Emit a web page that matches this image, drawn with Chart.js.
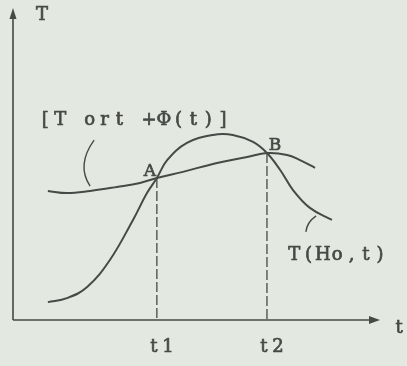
<!DOCTYPE html>
<html>
<head>
<meta charset="utf-8">
<script src="https://cdn.jsdelivr.net/npm/chart.js"></script>
<style>
  html, body { margin: 0; padding: 0; background: #e3e9e0; }
  .box { width: 407px; height: 366px; }
</style>
</head>
<body>
<div class="box"><canvas id="curves" width="407" height="366"></canvas></div>
<script>
// T ort + phi(t)
const ortT = [0.95, 1.47, 2.10, 2.83, 3.46, 3.92, 4.63, 5.56, 6.38, 6.92, 7.47, 7.82, 8.23];
const ortV = [4.19, 4.12, 4.19, 4.32, 4.45, 4.61, 4.81, 5.10, 5.29, 5.42, 5.36, 5.19, 4.94];

// T(Ho, t)
const hoT = [0.95, 1.47, 2.02, 2.64, 3.27, 3.65, 3.92, 4.20, 4.74, 5.45, 5.99, 6.54, 6.92, 7.28, 7.63, 8.09, 8.69];
const hoV = [0.58, 0.71, 1.07, 1.95, 3.25, 4.12, 4.61, 5.19, 5.75, 6.01, 6.01, 5.78, 5.42, 4.87, 4.22, 3.64, 3.25];

// crossing points A and B
const crossNames = ['A', 'B'];
const crossT = [3.92, 6.92];
const crossV = [4.61, 5.42];
const tickLabels = ['t1', 't2'];

const ink = '#464a46';
const serif = '"DejaVu Serif", "Liberation Serif", serif';

const toPts = (xs, ys) => xs.map((x, i) => ({x: x, y: ys[i]}));

// typewriter style: every character centred in a fixed cell, slightly inked
function typeText(ctx, str, left, y, cell) {
  [...str].forEach((ch, i) => {
    const cx = left + cell * i + cell / 2;
    ctx.fillText(ch, cx, y);
    ctx.strokeText(ch, cx, y);
  });
}

// axes with arrows, dashed drop lines, labels
const sketch = {
  id: 'sketch',
  afterDatasetsDraw(chart) {
    const ctx = chart.ctx;
    const xs = chart.scales.x, ys = chart.scales.y;
    const px = v => xs.getPixelForValue(v);
    const py = v => ys.getPixelForValue(v);
    const x0 = px(0), y0 = py(0);
    const xEnd = px(10), yEnd = py(10) - 4;

    ctx.save();
    ctx.strokeStyle = ink;
    ctx.fillStyle = ink;
    ctx.lineWidth = 1.6;
    ctx.beginPath();
    ctx.moveTo(x0, y0); ctx.lineTo(xEnd - 4, y0);
    ctx.moveTo(x0, y0); ctx.lineTo(x0, yEnd + 4);
    ctx.stroke();
    // arrow heads
    ctx.beginPath();
    ctx.moveTo(xEnd, y0); ctx.lineTo(xEnd - 11, y0 - 4); ctx.lineTo(xEnd - 11, y0 + 4); ctx.closePath();
    ctx.fill();
    ctx.beginPath();
    ctx.moveTo(x0, yEnd); ctx.lineTo(x0 - 3.5, yEnd + 11); ctx.lineTo(x0 + 3.5, yEnd + 11); ctx.closePath();
    ctx.fill();

    // dashed verticals
    ctx.lineWidth = 1.3;
    ctx.setLineDash([10, 3]);
    crossT.forEach((t, i) => {
      ctx.beginPath();
      ctx.moveTo(px(t), py(crossV[i]));
      ctx.lineTo(px(t), y0);
      ctx.stroke();
    });
    ctx.setLineDash([]);

    // leader strokes
    ctx.lineWidth = 1.4;
    ctx.beginPath();
    ctx.moveTo(px(2.21), py(5.84));
    ctx.quadraticCurveTo(px(1.72), py(5.03), px(2.10), py(4.35));
    ctx.stroke();
    ctx.beginPath();
    ctx.moveTo(px(7.98), py(2.86));
    ctx.quadraticCurveTo(px(8.01), py(3.18), px(8.26), py(3.38));
    ctx.stroke();

    // text
    ctx.font = '18px ' + serif;
    ctx.lineWidth = 0.7;
    ctx.textBaseline = 'middle';
    ctx.textAlign = 'center';
    typeText(ctx, '[T ort +\u03A6(t)]', px(0.68), py(6.49), 14.8);
    typeText(ctx, 'T(Ho,t)', px(7.47), py(2.11), 14.3);
    typeText(ctx, 'T', x0 + 22, 15, 14);
    typeText(ctx, 't', xEnd + 12, y0 + 8, 14);
    crossT.forEach((t, i) => {
      typeText(ctx, tickLabels[i], px(t) - 10, y0 + 27, 14);
    });

    ctx.font = '17px ' + serif;
    typeText(ctx, crossNames[0], px(3.73) - 7, py(4.81), 14);
    typeText(ctx, crossNames[1], px(7.14) - 7, py(5.65), 14);
    ctx.restore();
  }
};

new Chart(document.getElementById('curves'), {
  type: 'scatter',
  data: {
    datasets: [
      {
        label: 'T ort + phi(t)',
        data: toPts(ortT, ortV),
        showLine: true,
        borderColor: ink,
        borderWidth: 2,
        pointRadius: 0,
        tension: 0.4
      },
      {
        label: 'T(Ho,t)',
        data: toPts(hoT, hoV),
        showLine: true,
        borderColor: ink,
        borderWidth: 2,
        pointRadius: 0,
        tension: 0.4
      }
    ]
  },
  options: {
    responsive: false,
    animation: false,
    layout: { padding: { left: 13, right: 27, top: 12, bottom: 46 } },
    plugins: { legend: { display: false }, tooltip: { enabled: false } },
    scales: {
      x: { type: 'linear', min: 0, max: 10, display: false },
      y: { type: 'linear', min: 0, max: 10, display: false }
    }
  },
  plugins: [sketch]
});
</script>
</body>
</html>
